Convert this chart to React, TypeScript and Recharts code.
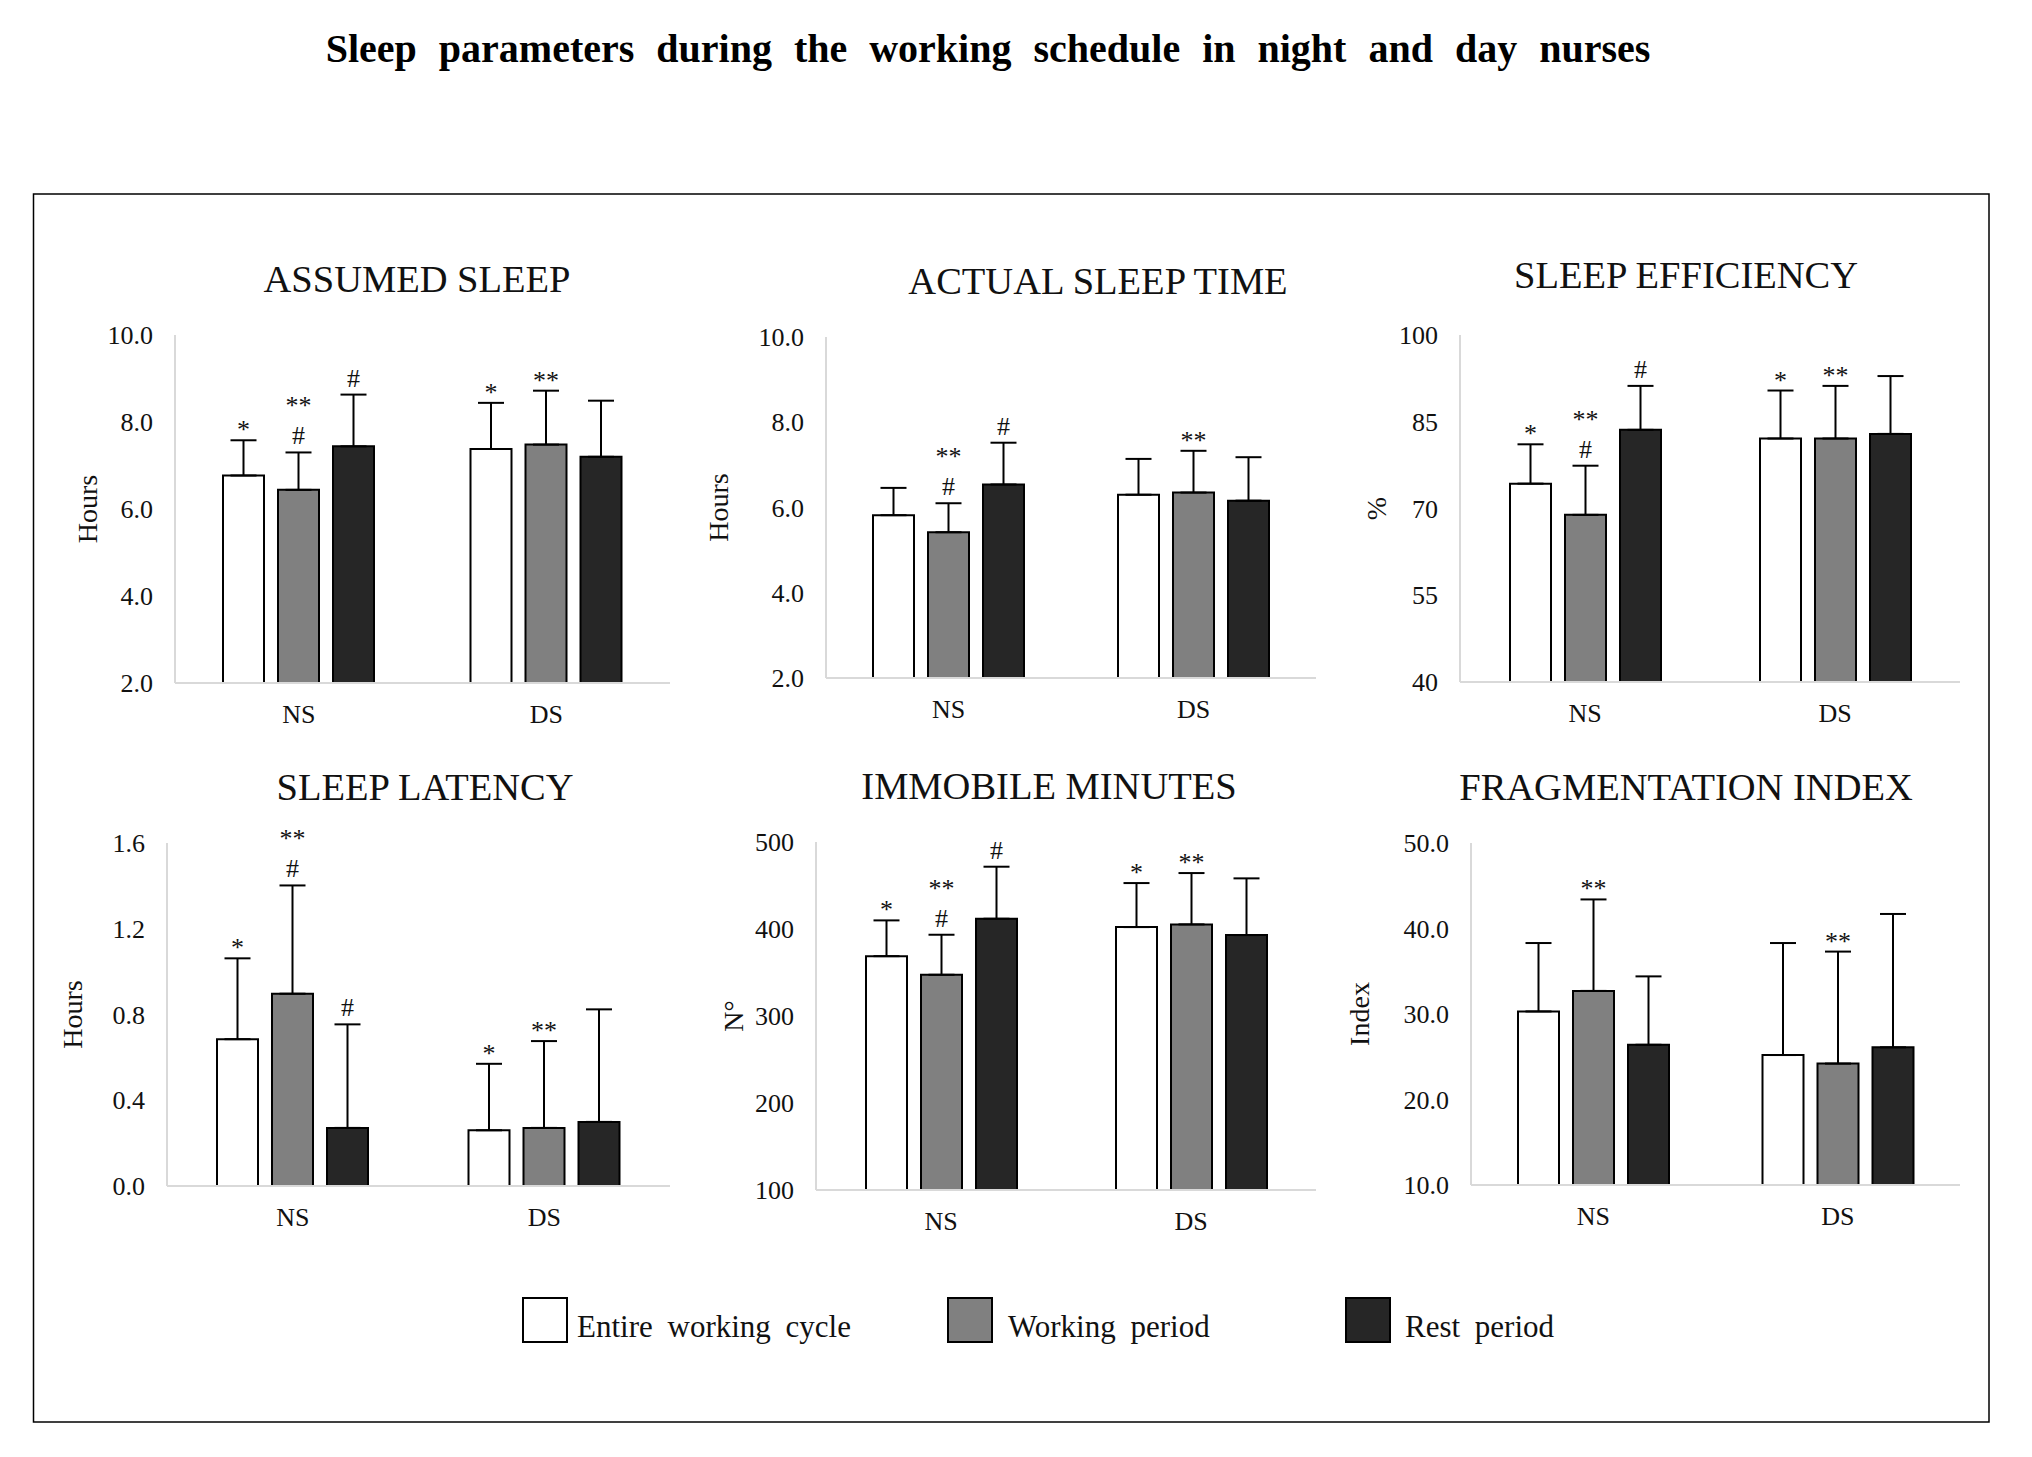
import React from 'react';
import { BarChart, Bar, XAxis, YAxis, ErrorBar, LabelList } from 'recharts';

const groups = ['NS', 'DS'];
const seriesNames = ['Entire working cycle', 'Working period', 'Rest period'];
const seriesColors = ['#ffffff', '#808080', '#262626'];

const titles = [
  'ASSUMED SLEEP',
  'ACTUAL SLEEP TIME',
  'SLEEP EFFICIENCY',
  'SLEEP LATENCY',
  'IMMOBILE MINUTES',
  'FRAGMENTATION INDEX',
];
const yLabels = ['Hours', 'Hours', '%', 'Hours', 'N°', 'Index'];
const yTicks = [
  [2, 4, 6, 8, 10],
  [2, 4, 6, 8, 10],
  [40, 55, 70, 85, 100],
  [0, 0.4, 0.8, 1.2, 1.6],
  [100, 200, 300, 400, 500],
  [10, 20, 30, 40, 50],
];
const tickDecimals = [1, 1, 0, 1, 0, 1];

// [NS, DS] for each panel
const entireMean = [[6.77, 7.38], [5.82, 6.3], [74.3, 82.1], [0.685, 0.26], [368.8, 402.2], [30.3, 25.2]];
const entireSD = [[0.81, 1.06], [0.64, 0.84], [6.8, 8.3], [0.377, 0.31], [41.1, 50.6], [8.0, 13.1]];
const workingMean = [[6.44, 7.48], [5.42, 6.35], [68.9, 82.1], [0.897, 0.271], [347.4, 405.3], [32.7, 24.2]];
const workingSD = [[0.86, 1.24], [0.68, 0.98], [8.5, 9.1], [0.505, 0.405], [46.0, 59.0], [10.7, 13.1]];
const restMean = [[7.44, 7.2], [6.54, 6.16], [83.6, 82.9], [0.271, 0.299], [411.8, 393.0], [26.4, 26.1]];
const restSD = [[1.19, 1.29], [0.98, 1.02], [7.6, 10.0], [0.483, 0.525], [59.8, 65.2], [8.0, 15.6]];

// significance marks above each error bar, listed from the bar upwards
const entireMarks = [[['*'], ['*']], [[], []], [['*'], ['*']], [['*'], ['*']], [['*'], ['*']], [[], []]];
const workingMarks = [
  [['#', '**'], ['**']],
  [['#', '**'], ['**']],
  [['#', '**'], ['**']],
  [['#', '**'], ['**']],
  [['#', '**'], ['**']],
  [['**'], ['**']],
];
const restMarks = [[['#'], []], [['#'], []], [['#'], []], [['#'], []], [['#'], []], [[], []]];

// page geometry of each panel's plot area
const layout = [
  { axisX: 175, top: 335, bottom: 683, right: 670, titleX: 417, titleY: 292, labelShift: 88 },
  { axisX: 826, top: 337, bottom: 678, right: 1316, titleX: 1098, titleY: 294, labelShift: 108 },
  { axisX: 1460, top: 335, bottom: 682, right: 1960, titleX: 1686, titleY: 288, labelShift: 84 },
  { axisX: 167, top: 843, bottom: 1186, right: 670, titleX: 425, titleY: 800, labelShift: 95 },
  { axisX: 816, top: 842, bottom: 1190, right: 1316, titleX: 1049, titleY: 799, labelShift: 83 },
  { axisX: 1471, top: 843, bottom: 1185, right: 1960, titleX: 1686, titleY: 800, labelShift: 112 },
];

const FONT = '"Liberation Serif", "Times New Roman", serif';
const Y_W = 130;
const MT = 40;
const MR = 10;
const X_H = 60;
const AXIS_GREY = '#d9d9d9';

const YTitle = (props: any) => {
  const vb = props.viewBox || {};
  const plotH = props.plotH;
  const baseX = vb.x != null ? vb.x + vb.width : Y_W;
  const cx = baseX - props.shift;
  const cy = vb.y != null ? vb.y + vb.height / 2 : MT + plotH / 2;
  return (
    <text
      x={cx}
      y={cy}
      transform={`rotate(-90 ${cx} ${cy})`}
      textAnchor="middle"
      dominantBaseline="central"
      fontFamily={FONT}
      fontSize={28}
      fill="#111"
    >
      {props.text}
    </text>
  );
};

function marksRenderer(marks: string[][], means: number[], sds: number[], domainMin: number) {
  return (props: any) => {
    const vb = props.viewBox || props;
    let i = props.index;
    if (i == null) i = means.indexOf(props.value);
    const list = marks[i];
    if (!list || list.length === 0) return null;
    const v = means[i];
    const pxPerUnit = vb.height / (v - domainMin);
    const errTop = vb.y - sds[i] * pxPerUnit;
    const cx = vb.x + vb.width / 2;
    let base = errTop;
    return (
      <g>
        {list.map((m, k) => {
          if (k === 0) base = errTop - (m === '#' ? 8 : 2);
          else base = base - 30;
          return (
            <text key={k} x={cx} y={base} textAnchor="middle" fontFamily={FONT} fontSize={26} fill="#111">
              {m}
            </text>
          );
        })}
      </g>
    );
  };
}

function Panel({ p }: { p: number }) {
  const L = layout[p];
  const ticks = yTicks[p];
  const domain = [ticks[0], ticks[ticks.length - 1]];
  const plotH = L.bottom - L.top;
  const width = L.right - L.axisX + Y_W + MR;
  const height = plotH + MT + X_H;

  const data = groups.map((g, gi) => ({
    group: g,
    entire: entireMean[p][gi],
    entireErr: [0, entireSD[p][gi]],
    working: workingMean[p][gi],
    workingErr: [0, workingSD[p][gi]],
    rest: restMean[p][gi],
    restErr: [0, restSD[p][gi]],
  }));

  const series = [
    { key: 'entire', means: entireMean[p], sds: entireSD[p], marks: entireMarks[p] },
    { key: 'working', means: workingMean[p], sds: workingSD[p], marks: workingMarks[p] },
    { key: 'rest', means: restMean[p], sds: restSD[p], marks: restMarks[p] },
  ];

  return (
    <div style={{ position: 'absolute', left: L.axisX - Y_W, top: L.top - MT, width, height }}>
      <BarChart
        width={width}
        height={height}
        data={data}
        margin={{ top: MT, right: MR, left: 0, bottom: 0 }}
        barSize={41}
        barGap={14}
      >
        <XAxis
          dataKey="group"
          axisLine={{ stroke: AXIS_GREY, strokeWidth: 2 }}
          tickLine={false}
          tickMargin={16}
          height={X_H}
          tick={{ fill: '#111', fontSize: 26, fontFamily: FONT }}
        />
        <YAxis
          type="number"
          domain={domain}
          ticks={ticks}
          interval={0}
          width={Y_W}
          axisLine={{ stroke: AXIS_GREY, strokeWidth: 2 }}
          tickLine={false}
          tickMargin={16}
          tickFormatter={(v: number) => v.toFixed(tickDecimals[p])}
          tick={{ fill: '#111', fontSize: 26, fontFamily: FONT }}
          label={<YTitle text={yLabels[p]} shift={L.labelShift} plotH={plotH} />}
        />
        {series.map((s, si) => (
          <Bar
            key={s.key}
            dataKey={s.key}
            name={seriesNames[si]}
            fill={seriesColors[si]}
            stroke="#000"
            strokeWidth={2}
            isAnimationActive={false}
          >
            <ErrorBar dataKey={`${s.key}Err`} width={13} stroke="#000" strokeWidth={2} direction="y" />
            <LabelList dataKey={s.key} content={marksRenderer(s.marks, s.means, s.sds, domain[0])} />
          </Bar>
        ))}
      </BarChart>
    </div>
  );
}

const legendBoxes = [
  { boxX: 523, textX: 577 },
  { boxX: 948, textX: 1008 },
  { boxX: 1346, textX: 1405 },
];

export default function App() {
  return (
    <div style={{ position: 'absolute', left: 0, top: 0, width: 2032, height: 1457, background: '#fff' }}>
      <svg width={2032} height={1457} style={{ position: 'absolute', left: 0, top: 0 }}>
        <text
          x={988}
          y={62}
          textAnchor="middle"
          fontFamily={FONT}
          fontWeight="bold"
          fontSize={40}
          wordSpacing={12}
          fill="#000"
        >
          Sleep parameters during the working schedule in night and day nurses
        </text>
        <rect x={33.5} y={194} width={1955.5} height={1228} fill="none" stroke="#000" strokeWidth={1.5} />
        {titles.map((t, i) => (
          <text
            key={t}
            x={layout[i].titleX}
            y={layout[i].titleY}
            textAnchor="middle"
            fontFamily={FONT}
            fontSize={38.5}
            fill="#111"
          >
            {t}
          </text>
        ))}
        {seriesNames.map((name, i) => (
          <g key={name}>
            <rect
              x={legendBoxes[i].boxX}
              y={1298}
              width={44}
              height={44}
              fill={seriesColors[i]}
              stroke="#000"
              strokeWidth={2}
            />
            <text x={legendBoxes[i].textX} y={1337} fontFamily={FONT} fontSize={31} wordSpacing={7} fill="#111">
              {name}
            </text>
          </g>
        ))}
      </svg>
      {titles.map((t, i) => (
        <Panel key={t} p={i} />
      ))}
    </div>
  );
}
